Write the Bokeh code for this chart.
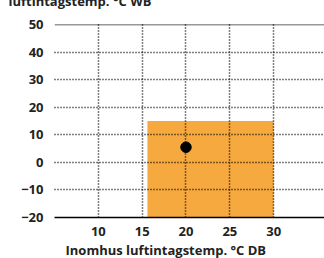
from bokeh.plotting import figure
from bokeh.models import Range1d, Span, FixedTicker, Title
from bokeh.embed import file_html
from bokeh.resources import INLINE

# Data
x_ticks = [10, 15, 20, 25, 30]
y_ticks = [-20, -10, 0, 10, 20, 30, 40, 50]
zone_x = [15.6, 30]      # indoor intake temp (°C DB) range
zone_y = [-20, 15]       # outdoor intake temp (°C WB) range
point_x = [20]
point_y = [5.5]
x_title = "Inomhus luftintagstemp. °C DB"
y_title = "luftintagstemp. °C WB"

FONT = "Open Sans"

p = figure(width=316, height=283, output_backend="svg", toolbar_location=None,
           x_range=Range1d(5, 35.8), y_range=Range1d(-20, 50),
           min_border_left=46, min_border_right=0, min_border_top=48, min_border_bottom=41)
p.styles = {"margin-top": "-25px", "margin-left": "8px", "margin-bottom": "-10px"}

p.title.text = y_title
p.title.align = "left"
p.title.offset = -46
p.title.text_font = FONT
p.title.text_font_size = "13px"
p.title.text_font_style = "bold"
p.title.text_color = "#222222"
p.title.standoff = 29

p.add_layout(Title(text=x_title, align="left", offset=11, standoff=0,
                   text_font=FONT, text_font_size="13px", text_font_style="bold",
                   text_color="#222222"), "below")

p.outline_line_color = None
p.background_fill_color = "white"

p.quad(left=[zone_x[0]], right=[zone_x[1]], bottom=[zone_y[0]], top=[zone_y[1]],
       fill_color="#F6A93E", line_color=None)
p.scatter(point_x, point_y, size=10.5, color="black")

for g, t in ((p.xgrid, x_ticks), (p.ygrid, y_ticks[1:-1])):
    g.ticker = FixedTicker(ticks=t)
    g.grid_line_color = "black"
    g.grid_line_dash = "1 2"
    g.grid_line_width = 1.5
    g.level = "overlay"

p.add_layout(Span(location=50, dimension="width", line_color="#333333", line_width=1.5))

p.xaxis.ticker = FixedTicker(ticks=x_ticks)
p.yaxis.ticker = FixedTicker(ticks=y_ticks)
for ax in (p.xaxis[0], p.yaxis[0]):
    ax.major_tick_line_color = None
    ax.minor_tick_line_color = None
    ax.major_tick_out = 0
    ax.major_tick_in = 0
    ax.major_label_text_font = FONT
    ax.major_label_text_font_size = "13px"
    ax.major_label_text_font_style = "bold"
    ax.major_label_text_color = "#222222"
p.yaxis.axis_line_color = None
p.yaxis.major_label_standoff = 11
p.xaxis.axis_line_color = "black"
p.xaxis.axis_line_width = 1.5
p.xaxis.major_label_standoff = 9

open("out.html", "w").write(file_html(p, INLINE))
